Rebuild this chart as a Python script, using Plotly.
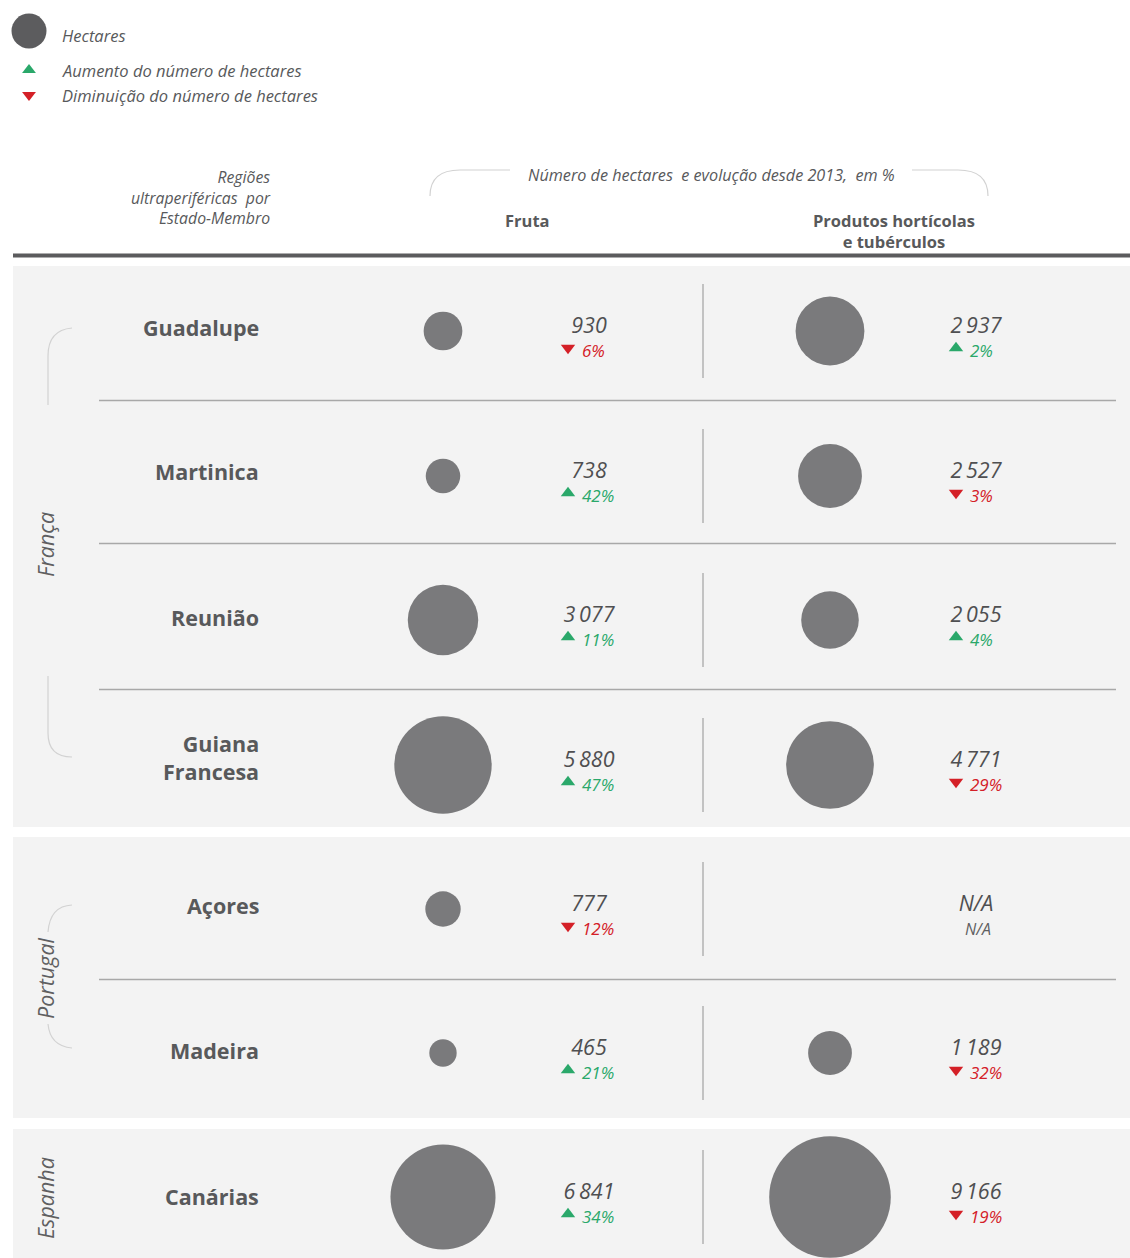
import plotly.graph_objects as go

# ---------------- data ----------------
regions = ["Guadalupe", "Martinica", "Reunião", "Guiana<br>Francesa", "Açores", "Madeira", "Canárias"]
countries = ["França", "Portugal", "Espanha"]
fruit_ha = [930, 738, 3077, 5880, 777, 465, 6841]
fruit_pct = [-6, 42, 11, 47, -12, 21, 34]
hort_ha = [2937, 2527, 2055, 4771, None, 1189, 9166]
hort_pct = [2, -3, 4, -29, None, -32, -19]
col_titles = ["Fruta", "Produtos hortícolas<br>e tubérculos"]

# ---------------- layout settings ----------------
W, H = 1130, 1258
FONT = "Open Sans"
TXT = "#58595b"
BUB = "#7a7a7c"
GREEN = "#2aa86a"
RED = "#d42027"
row_y = [331, 476, 620, 765, 909, 1053, 1197]
name_dy = [-4, -5, -3, -8, -4, -3, -1]
X_FRUIT, X_HORT = 443, 830
X_FVAL, X_HVAL = 589, 976
X_FTRI, X_HTRI = 568, 956
SCALE = 1.27  # px of diameter per sqrt(hectare)


def fmt(v):
    return f"{v:,}".replace(",", "\u2009")


fig = go.Figure()
shapes = []
annotations = []

# panels
for y0, y1 in [(266, 827), (837, 1118), (1129, 1262)]:
    shapes.append(dict(type="rect", x0=13, x1=1134, y0=y0, y1=y1, fillcolor="#f3f3f3",
                       line=dict(width=0), layer="below"))
# thick header line
shapes.append(dict(type="line", x0=13, x1=1134, y0=255.5, y1=255.5, line=dict(color="#5b5b5d", width=4)))
# row dividers
for y in [400.5, 543.5, 689.5, 979.5]:
    shapes.append(dict(type="line", x0=99, x1=1116, y0=y, y1=y, line=dict(color="#a8a8a8", width=1.3)))
# vertical separators
for y in row_y:
    shapes.append(dict(type="line", x0=703, x1=703, y0=y - 47, y1=y + 47, line=dict(color="#a8a8a8", width=1.3)))

arc = dict(color="#d2d2d2", width=1.2)
# header bracket
shapes.append(dict(type="path", path="M 430,196 Q 430,170 460,170 L 510,170", line=arc))
shapes.append(dict(type="path", path="M 912,170 L 958,170 Q 988,170 988,196", line=arc))
# France bracket
shapes.append(dict(type="path", path="M 72,328 Q 48,330 48,356 L 48,405", line=arc))
shapes.append(dict(type="path", path="M 48,676 L 48,733 Q 48,757 72,757", line=arc))
# Portugal bracket
shapes.append(dict(type="path", path="M 72,905 Q 50,906 48,932", line=arc))
shapes.append(dict(type="path", path="M 48,1024 Q 50,1046 72,1048", line=arc))

# ---------------- legend ----------------
fig.add_trace(go.Scatter(x=[29], y=[31], mode="markers", hoverinfo="skip",
                         marker=dict(size=35, color="#5c5c5e", line=dict(width=0))))
fig.add_trace(go.Scatter(x=[29], y=[70], mode="markers", hoverinfo="skip",
                         marker=dict(symbol="triangle-up", size=12, color=GREEN, line=dict(width=0))))
fig.add_trace(go.Scatter(x=[29], y=[95], mode="markers", hoverinfo="skip",
                         marker=dict(symbol="triangle-down", size=12, color=RED, line=dict(width=0))))
for y, t in [(35, "Hectares"), (70, "Aumento do número de hectares"), (95, "Diminuição do número de hectares")]:
    annotations.append(dict(x=60, y=y, text=t, showarrow=False, xanchor="left", yanchor="middle",
                            font=dict(family=FONT, size=16.5, color=TXT, style="italic")))

# ---------------- headers ----------------
annotations.append(dict(x=273, y=197, text="Regiões<br>ultraperiféricas  por<br>Estado-Membro", showarrow=False,
                        xanchor="right", yanchor="middle", align="right",
                        font=dict(family=FONT, size=15.8, color=TXT, style="italic")))
annotations.append(dict(x=711, y=175, text="Número de hectares  e evolução desde 2013,  em %", showarrow=False,
                        xanchor="center", yanchor="middle",
                        font=dict(family=FONT, size=16.2, color=TXT, style="italic")))
annotations.append(dict(x=527, y=220, text=col_titles[0], showarrow=False, xanchor="center", yanchor="middle",
                        font=dict(family=FONT, size=16.5, color=TXT, weight="bold")))
annotations.append(dict(x=894, y=231, text=col_titles[1], showarrow=False, xanchor="center", yanchor="middle",
                        font=dict(family=FONT, size=16.5, color=TXT, weight="bold")))

# ---------------- country labels ----------------
for (yc, t) in zip([545, 978, 1198], countries):
    annotations.append(dict(x=45, y=yc, text=t, showarrow=False, textangle=-90, xanchor="center",
                            yanchor="middle", font=dict(family=FONT, size=21.5, color="#5f5f61", style="italic")))

# ---------------- region names ----------------
for name, y, dy in zip(regions, row_y, name_dy):
    annotations.append(dict(x=261, y=y + dy, text=name, showarrow=False, xanchor="right", yanchor="middle",
                            align="right", font=dict(family=FONT, size=21.5, color=TXT, weight="bold")))


# ---------------- bubbles ----------------
def add_column(xb, xv, xt, ha, pct):
    ys = [y for y, v in zip(row_y, ha) if v is not None]
    vs = [v for v in ha if v is not None]
    fig.add_trace(go.Scatter(
        x=[xb] * len(vs), y=ys, mode="markers", hoverinfo="skip",
        marker=dict(size=[v ** 0.5 for v in vs], sizemode="diameter", sizeref=1 / SCALE,
                    color=BUB, line=dict(width=0), opacity=1)))
    # value texts
    fig.add_trace(go.Scatter(
        x=[xv] * len(ha), y=[y - 3 for y in row_y], mode="text", hoverinfo="skip",
        text=[fmt(v) if v is not None else "N/A" for v in ha], textposition="middle center",
        textfont=dict(family=FONT, size=21.5, color="#4f4f51", style="italic")))
    # change triangles
    for sign, sym, col in [(1, "triangle-up", GREEN), (-1, "triangle-down", RED)]:
        sel = [(y, p) for y, p in zip(row_y, pct) if p is not None and (p > 0) == (sign > 0)]
        if not sel:
            continue
        fig.add_trace(go.Scatter(
            x=[xt] * len(sel), y=[y + 17 for y, _ in sel], mode="markers", hoverinfo="skip",
            marker=dict(symbol=sym, size=12.5, color=col, line=dict(width=0))))
        fig.add_trace(go.Scatter(
            x=[xt + 14] * len(sel), y=[y + 22 for y, _ in sel], mode="text", hoverinfo="skip",
            text=[f"{abs(p)}%" for _, p in sel], textposition="middle right",
            textfont=dict(family=FONT, size=17, color=col, style="italic")))
    # N/A changes
    na = [y for y, p in zip(row_y, pct) if p is None]
    if na:
        fig.add_trace(go.Scatter(
            x=[xv + 2] * len(na), y=[y + 22 for y in na], mode="text", hoverinfo="skip",
            text=["N/A"] * len(na), textposition="middle center",
            textfont=dict(family=FONT, size=16, color="#5f5f61", style="italic")))


add_column(X_FRUIT, X_FVAL, X_FTRI, fruit_ha, fruit_pct)
add_column(X_HORT, X_HVAL, X_HTRI, hort_ha, hort_pct)

fig.update_layout(
    width=W, height=H, margin=dict(l=0, r=0, t=0, b=0),
    paper_bgcolor="white", plot_bgcolor="white", showlegend=False,
    xaxis=dict(range=[0, W], visible=False, fixedrange=True),
    yaxis=dict(range=[H, 0], visible=False, fixedrange=True),
    shapes=shapes, annotations=annotations,
)
fig.write_html("out.html", config={"displayModeBar": False},
               post_script="document.body.style.margin='0';document.body.style.overflow='hidden';")
